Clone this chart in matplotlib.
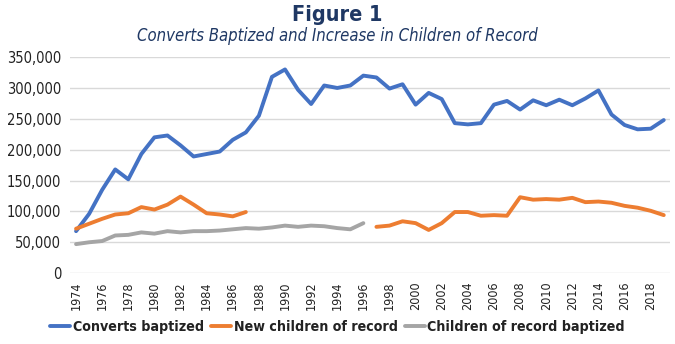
import matplotlib.pyplot as plt
import numpy as np

years = list(range(1974, 2020))

converts = [68000, 96000, 135000, 168000, 152000, 193000, 220000, 223000, 207000, 189000,
            193000, 197000, 216000, 228000, 255000, 318000, 330000, 297000, 274000, 304000,
            300000, 304000, 320000, 317000, 299000, 306000, 273000, 292000, 282000, 243000,
            241000, 243000, 273000, 279000, 265000, 280000, 272000, 281000, 272000, 283000,
            296000, 257000, 240000, 233000, 234000, 248000]

new_children = [72000, 80000, 88000, 95000, 97000, 107000, 103000, 111000, 124000, 111000,
                97000, 95000, 92000, 99000, None, None, None, None, None, None,
                None, None, None, 75000, 77000, 84000, 81000, 70000, 81000, 99000,
                99000, 93000, 94000, 93000, 123000, 119000, 120000, 119000, 122000, 115000,
                116000, 114000, 109000, 106000, 101000, 94000]

children_baptized = [47000, 50000, 52000, 61000, 62000, 66000, 64000, 68000, 66000, 68000,
                     68000, 69000, 71000, 73000, 72000, 74000, 77000, 75000, 77000, 76000,
                     73000, 71000, 81000] + [None] * 23

series = [("Converts baptized", converts, "#4472C4"),
          ("New children of record", new_children, "#ED7D31"),
          ("Children of record baptized", children_baptized, "#A5A5A5")]

NAVY = "#1F3864"
FONT = dict(family="DejaVu Sans", stretch="condensed")


def main():
    fig = plt.figure(figsize=(6.75, 3.44), dpi=100)
    ax = fig.add_axes([0.103, 0.206, 0.89, 0.628])
    plot_data(ax)
    set_properties(fig, ax)
    fig.savefig("out.png", dpi=100)


def plot_data(ax):
    for label, values, colour in series:
        y = np.array([np.nan if v is None else v for v in values], dtype=float)
        ax.plot(years, y, color=colour, linewidth=2.8, label=label,
                solid_capstyle="round", solid_joinstyle="round")


def set_properties(fig, ax):
    fig.text(0.5, 0.955, "Figure 1", ha="center", va="center", fontsize=15.5,
             fontweight="bold", color=NAVY, **FONT)
    fig.text(0.5, 0.895, "Converts Baptized and Increase in Children of Record",
             ha="center", va="center", fontsize=12, style="italic", color=NAVY, **FONT)

    ax.set_ylim(0, 350000)
    ax.set_xlim(1973.5, 2019.5)
    ax.set_yticks(range(0, 350001, 50000))
    ax.set_yticklabels([f"{v:,}" for v in range(0, 350001, 50000)], fontsize=10.5, **FONT)
    ax.set_xticks(range(1974, 2020, 2))
    ax.set_xticklabels([str(y) for y in range(1974, 2020, 2)], rotation=90,
                       fontsize=9, **FONT)
    ax.tick_params(length=0, pad=6, colors="#222222")
    ax.grid(axis="y", color="#D9D9D9", linewidth=1)
    ax.set_axisbelow(True)
    for s in ax.spines.values():
        s.set_visible(False)

    leg = fig.legend(loc="center", bbox_to_anchor=(0.5, 0.05), ncol=3, frameon=False,
                     handlelength=1.4, handletextpad=0.2, columnspacing=0.5,
                     prop={"family": "DejaVu Sans", "stretch": "condensed",
                           "weight": "bold", "size": 10.2})
    for t in leg.get_texts():
        t.set_color("#222222")


if __name__ == "__main__":
    main()
